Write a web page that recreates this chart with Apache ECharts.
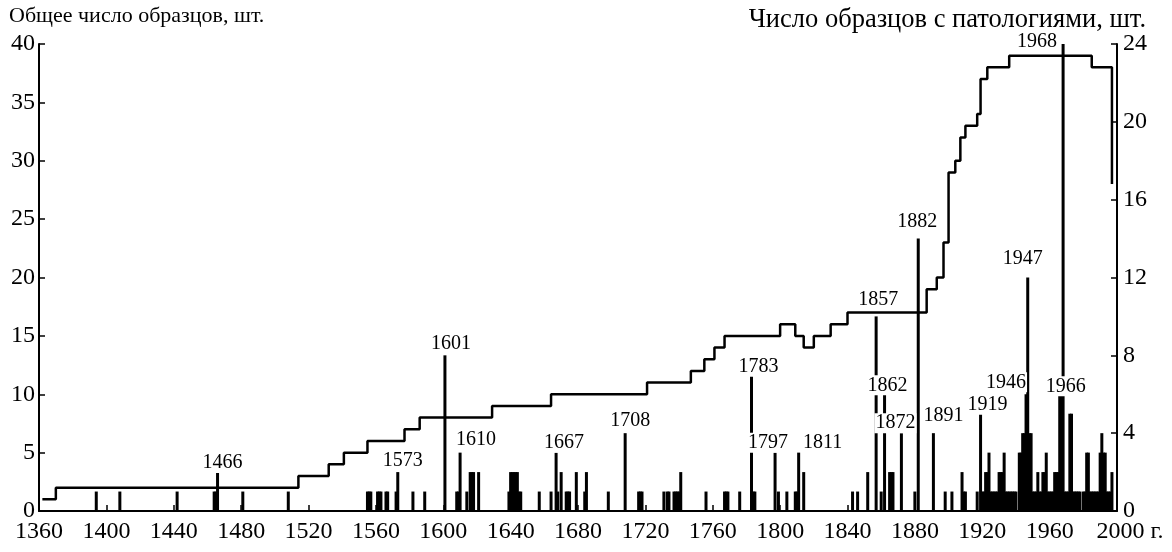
<!DOCTYPE html>
<html>
<head>
<meta charset="utf-8">
<script src="https://cdn.jsdelivr.net/npm/echarts@6/dist/echarts.min.js"></script>
<style>
  html, body { margin: 0; padding: 0; background: #fff; }
  #chart { width: 1172px; height: 552px; }
</style>
</head>
<body>
<div id="chart"></div>
<script>
// общее число образцов: год изменения -> новое значение (ступенчатая линия)
const stepYears = [1362, 1370, 1514, 1532, 1541, 1555, 1577, 1586, 1629, 1664, 1721, 1747, 1755, 1761, 1767,
  1800, 1809, 1814, 1820, 1830, 1840, 1887, 1893, 1897, 1900, 1904, 1907, 1910, 1917, 1919, 1923, 1936, 1985, 1997];
const stepTotals = [1, 2, 3, 4, 5, 6, 7, 8, 9, 10, 11, 12, 13, 14, 15,
  16, 15, 14, 15, 16, 17, 19, 20, 23, 29, 30, 32, 33, 34, 37, 38, 39, 38, 28];

// число образцов с патологиями по годам
const pathYears = [1394, 1408, 1442, 1464, 1465, 1466, 1481, 1508,
  1555, 1556, 1557, 1561, 1562, 1563, 1566, 1567, 1572, 1573, 1582, 1589,
  1601, 1608, 1609, 1610, 1614, 1616, 1617, 1618, 1621,
  1639, 1640, 1641, 1642, 1643, 1644, 1645, 1646, 1657, 1664, 1667, 1668, 1670, 1673, 1674, 1675, 1679, 1684, 1685, 1698,
  1708, 1716, 1717, 1718, 1731, 1733, 1734, 1737, 1738, 1739, 1740, 1741, 1756, 1767, 1768, 1769, 1776, 1783, 1784, 1785, 1797, 1799,
  1804, 1809, 1810, 1811, 1814, 1843, 1846, 1852, 1857, 1860, 1862, 1865, 1866, 1867, 1872, 1880, 1882, 1891, 1898,
  1902, 1908, 1909, 1910, 1917, 1919, 1920, 1921, 1922, 1923, 1924, 1925, 1926, 1927, 1928, 1929,
  1930, 1931, 1932, 1933, 1934, 1935, 1936, 1937, 1938, 1939, 1940, 1942, 1943, 1944, 1945, 1946, 1947, 1948, 1949,
  1950, 1951, 1952, 1953, 1954, 1955, 1956, 1957, 1958, 1959, 1960, 1961, 1962, 1963, 1964, 1965, 1966, 1967, 1968, 1969,
  1970, 1971, 1972, 1973, 1974, 1975, 1976, 1977, 1978, 1980, 1981, 1982, 1983, 1984, 1985, 1986, 1987, 1988, 1989,
  1990, 1991, 1992, 1993, 1994, 1995, 1996, 1997];
const pathCounts = [1, 1, 1, 1, 1, 2, 1, 1,
  1, 1, 1, 1, 1, 1, 1, 1, 1, 2, 1, 1,
  8, 1, 1, 3, 1, 2, 2, 2, 2,
  1, 2, 2, 2, 2, 2, 1, 1, 1, 1, 3, 1, 2, 1, 1, 1, 2, 1, 2, 1,
  4, 1, 1, 1, 1, 1, 1, 1, 1, 1, 1, 2, 1, 1, 1, 1, 1, 7, 1, 1, 3, 1,
  1, 1, 1, 3, 2, 1, 1, 2, 10, 1, 6, 2, 2, 2, 4, 1, 14, 4, 1,
  1, 2, 1, 1, 1, 5, 1, 1, 2, 2, 3, 1, 1, 1, 1, 1,
  2, 2, 2, 3, 1, 1, 1, 1, 1, 1, 1, 3, 3, 4, 4, 6, 12, 4, 4,
  1, 1, 1, 2, 1, 1, 2, 2, 3, 1, 1, 1, 1, 2, 2, 2, 6, 6, 24, 1,
  1, 1, 5, 5, 1, 1, 1, 1, 1, 1, 1, 3, 3, 1, 1, 1, 1, 1, 1,
  3, 4, 3, 3, 1, 1, 1, 2];

// подписанные годы
const labeledYears = [1466, 1573, 1601, 1610, 1667, 1708, 1783, 1797, 1811, 1857, 1862, 1872, 1882, 1891, 1919, 1946, 1947, 1966, 1968];

// сдвиги подписей [dx, dy] (оформление)
const labelShift = {
  1466: [5, 3], 1573: [5, 1], 1601: [6, 0], 1610: [16, -1], 1667: [8, 2], 1708: [5, 0],
  1783: [7, 4], 1797: [-7, 2], 1811: [24, 2], 1857: [2, -5], 1862: [3, 3], 1872: [-6, 2],
  1882: [-1, -5], 1891: [10, -5], 1919: [7, 3], 1946: [-20, 0], 1947: [-5, -7], 1966: [6, 4], 1968: [-26, 10]
};

const serif = "'Liberation Serif', 'DejaVu Serif', serif";

const barData = pathYears.map((y, i) => {
  const item = { value: [y, pathCounts[i]] };
  if (labeledYears.indexOf(y) >= 0) {
    const s = labelShift[y] || [0, 0];
    item.label = {
      show: true,
      position: 'top',
      distance: 2,
      offset: s,
      formatter: String(y),
      fontFamily: serif,
      fontSize: 20,
      color: '#000',
      backgroundColor: '#fff',
      padding: [0, 1]
    };
  }
  return item;
});

const stepData = stepYears.map((y, i) => [y, stepTotals[i]]);

const myChart = echarts.init(document.getElementById('chart'));
const option = {
  animation: false,
  title: [
    {
      text: 'Общее число образцов, шт.',
      left: 4, top: 0,
      textStyle: { fontFamily: serif, fontSize: 22, fontWeight: 'normal', color: '#000' }
    },
    {
      text: 'Число образцов с патологиями, шт.',
      right: 21, top: 2,
      textStyle: { fontFamily: serif, fontSize: 26.5, fontWeight: 'normal', color: '#000' }
    }
  ],
  grid: { left: 39, right: 55, top: 44, bottom: 41 },
  xAxis: {
    type: 'value',
    min: 1360,
    max: 2000,
    interval: 40,
    axisLine: { show: true, lineStyle: { color: '#000', width: 2 } },
    axisTick: { show: true, inside: true, length: 6, lineStyle: { color: '#000', width: 1.5 } },
    axisLabel: {
      color: '#000', fontFamily: serif, fontSize: 24, margin: 9,
      formatter: (v) => v === 2000 ? '{p|}2000 г.' : String(v),
      rich: { p: { width: 26 } }
    },
    splitLine: { show: false }
  },
  yAxis: [
    {
      type: 'value',
      min: 0,
      max: 40,
      interval: 5,
      axisLine: { show: true, lineStyle: { color: '#000', width: 2 } },
      axisTick: { show: true, inside: true, length: 6, lineStyle: { color: '#000', width: 1.5 } },
      axisLabel: { color: '#000', fontFamily: serif, fontSize: 24, margin: 4 },
      splitLine: { show: false }
    },
    {
      type: 'value',
      min: 0,
      max: 24,
      interval: 4,
      position: 'right',
      axisLine: { show: true, lineStyle: { color: '#000', width: 2 } },
      axisTick: { show: true, inside: true, length: 6, lineStyle: { color: '#000', width: 1.5 } },
      axisLabel: { color: '#000', fontFamily: serif, fontSize: 24, margin: 6 },
      splitLine: { show: false }
    }
  ],
  series: [
    {
      name: 'Общее число',
      type: 'line',
      step: 'end',
      yAxisIndex: 0,
      data: stepData,
      symbol: 'none',
      lineStyle: { color: '#000', width: 2.5 },
      z: 2
    },
    {
      name: 'С патологиями',
      type: 'bar',
      yAxisIndex: 1,
      data: barData,
      barWidth: 3,
      itemStyle: { color: '#000' },
      z: 2
    }
  ]
};
myChart.setOption(option);
</script>
</body>
</html>
